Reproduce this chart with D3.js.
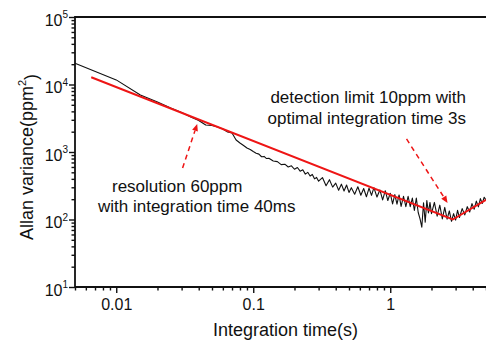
<!DOCTYPE html>
<html>
<head>
<meta charset="utf-8">
<script src="https://cdn.jsdelivr.net/npm/d3@7"></script>
<style>
  body { margin: 0; background: #fff; }
  svg { display: block; font-family: "Liberation Sans", Arial, sans-serif; }
</style>
</head>
<body>
<div id="chart"></div>
<script>
// Allan variance: tau (s) and variance (ppm^2)
const tau = [
  0.005, 0.010, 0.015, 0.020, 0.025, 0.030, 0.035, 0.040, 0.045, 0.050,
  0.055, 0.060, 0.065, 0.070, 0.075, 0.080, 0.085, 0.090, 0.095, 0.100,
  0.105, 0.11, 0.115, 0.12, 0.125, 0.13, 0.14, 0.15, 0.16, 0.17,
  0.18, 0.19, 0.20, 0.21, 0.22, 0.23, 0.24, 0.25, 0.26, 0.27,
  0.28, 0.29, 0.30, 0.32, 0.34, 0.36, 0.38, 0.40, 0.42, 0.44,
  0.46, 0.48, 0.50, 0.52, 0.55, 0.58, 0.61, 0.64, 0.67, 0.70,
  0.73, 0.76, 0.80, 0.84, 0.88, 0.92, 0.96, 1.00, 1.04, 1.08,
  1.12, 1.16, 1.20, 1.25, 1.30, 1.35, 1.40, 1.45, 1.50, 1.55,
  1.60, 1.65, 1.70, 1.75, 1.80, 1.85, 1.90, 1.95, 2.00, 2.10,
  2.20, 2.30, 2.40, 2.50, 2.60, 2.70, 2.80, 2.90, 3.00, 3.10,
  3.20, 3.35, 3.50, 3.65, 3.80, 3.95, 4.10, 4.25, 4.40, 4.55,
  4.70, 4.85, 5.00
];
const allanVar = [
  20600, 11700, 7000, 5500, 4490, 3850, 3300, 2930, 2510, 2470,
  2340, 2190, 1980, 1910, 1506, 1358, 1248, 1146, 1089, 1016,
  960, 930, 850, 860, 800, 810, 735, 720, 650, 660,
  600, 625, 555, 590, 520, 545, 470, 500, 440, 465,
  400, 420, 370, 418, 317, 389, 302, 346, 272, 334,
  264, 324, 252, 296, 237, 306, 229, 288, 217, 292,
  228, 296, 215, 274, 195, 267, 191, 245, 170, 234,
  169, 231, 156, 221, 155, 221, 155, 208, 136, 208,
  127, 102, 77, 177, 91, 191, 125, 179, 122, 179,
  112, 163, 102, 151, 101, 134, 94, 122, 98, 137,
  107, 145, 117, 155, 129, 172, 142, 187, 154, 204,
  173, 214, 194
];

// red guide line
const fitTau = [0.00657, 2.86, 5];
const fitVar = [12800, 100, 195];

const xMajor = [0.01, 0.1, 1];
const yMajor = [1e1, 1e2, 1e3, 1e4, 1e5];

// annotation arrows [tau, variance]
const arrowTails = [[0.0305, 580], [1.315, 1560]];
const arrowTips = [[0.039, 2600], [2.62, 176]];

const width = 486, height = 343;
const margin = {top: 17, right: 0, bottom: 56, left: 75};

const svg = d3.select("#chart").append("svg")
  .attr("width", width).attr("height", height);

const x = d3.scaleLog().domain([0.005, 5]).range([margin.left, width - margin.right]);
const y = d3.scaleLog().domain([10, 1e5]).range([height - margin.bottom, margin.top]);

// minor tick values 2..9 per decade
function minors(domain) {
  let out = [];
  for (let e = -4; e <= 6; e++)
    for (let m = 2; m <= 9; m++) {
      let v = m * Math.pow(10, e);
      if (v >= domain[0] * 0.999 && v <= domain[1] * 1.001) out.push(v);
    }
  return out;
}

const red = "#ee1515";
const ink = "#111";

// data lines
const line = d3.line().x(d => x(d[0])).y(d => y(d[1]));

svg.append("path")
  .datum(tau.map((t, i) => [t, allanVar[i]]))
  .attr("d", line)
  .attr("fill", "none")
  .attr("stroke", ink)
  .attr("stroke-width", 1.1)
  .attr("stroke-linejoin", "round");

svg.append("path")
  .datum(fitTau.map((t, i) => [t, fitVar[i]]))
  .attr("d", line)
  .attr("fill", "none")
  .attr("stroke", red)
  .attr("stroke-width", 2);

// axes
const gxMin = svg.append("g").attr("transform", `translate(0,${y.range()[0]})`)
  .call(d3.axisBottom(x).tickValues(minors(x.domain())).tickSize(3.5).tickSizeOuter(0).tickFormat(""));
const gxMaj = svg.append("g").attr("transform", `translate(0,${y.range()[0]})`)
  .call(d3.axisBottom(x).tickValues(xMajor).tickSize(6).tickSizeOuter(0).tickPadding(6)
    .tickFormat(d => d3.format("~g")(d)));

const gyMin = svg.append("g").attr("transform", `translate(${x.range()[0]},0)`)
  .call(d3.axisLeft(y).tickValues(minors(y.domain())).tickSize(3.5).tickSizeOuter(0).tickFormat(""));
const gyMaj = svg.append("g").attr("transform", `translate(${x.range()[0]},0)`)
  .call(d3.axisLeft(y).tickValues(yMajor).tickSize(6).tickSizeOuter(0).tickPadding(1).tickFormat(""));

gyMaj.selectAll(".tick text").each(function(d) {
  const t = d3.select(this).attr("dy", "0.5em");
  t.append("tspan").text("10");
  t.append("tspan").attr("dy", "-0.75em").attr("font-size", 10).text(Math.round(Math.log10(d)));
});

[gxMin, gxMaj, gyMin, gyMaj].forEach(g => {
  g.select(".domain").remove();
  g.selectAll("line").attr("stroke", ink).attr("stroke-width", 1.4);
  g.selectAll("text").attr("font-size", 16).attr("fill", ink)
    .attr("font-family", "'Liberation Sans', Arial, sans-serif");
});

// frame: left, bottom, top
svg.append("path")
  .attr("d", `M${x.range()[1]},${y.range()[1]}H${x.range()[0]}V${y.range()[0]}H${x.range()[1]}`)
  .attr("fill", "none").attr("stroke", ink).attr("stroke-width", 1.8);

// axis titles
svg.append("text")
  .attr("x", (x.range()[0] + x.range()[1]) / 2 + 5)
  .attr("y", 336)
  .attr("text-anchor", "middle")
  .attr("font-size", 18)
  .attr("fill", ink)
  .text("Integration time(s)");

const yt = svg.append("text")
  .attr("transform", "translate(33,157) rotate(-90)")
  .attr("text-anchor", "middle")
  .attr("font-size", 18)
  .attr("fill", ink);
yt.append("tspan").text("Allan variance(ppm");
yt.append("tspan").attr("dy", "-0.6em").attr("font-size", 11).text("2");
yt.append("tspan").attr("dy", "0.6em").text(")");

// annotations
function arrow(from, to) {
  const x0 = x(from[0]), y0 = y(from[1]), x1 = x(to[0]), y1 = y(to[1]);
  const a = Math.atan2(y1 - y0, x1 - x0);
  const len = 7, half = 3;
  const bx = x1 - len * Math.cos(a), by = y1 - len * Math.sin(a);
  svg.append("line")
    .attr("x1", x0).attr("y1", y0).attr("x2", bx).attr("y2", by)
    .attr("stroke", red).attr("stroke-width", 1.5)
    .attr("stroke-dasharray", "5,4");
  svg.append("path")
    .attr("d", `M${x1},${y1}L${bx - half * Math.sin(a)},${by + half * Math.cos(a)}L${bx + half * Math.sin(a)},${by - half * Math.cos(a)}Z`)
    .attr("fill", red);
}
arrowTails.forEach((t, i) => arrow(t, arrowTips[i]));

function note(lines, xs, ys, anchor) {
  lines.forEach((s, i) => {
    svg.append("text")
      .attr("x", xs[i]).attr("y", ys[i])
      .attr("text-anchor", anchor)
      .attr("font-size", 17)
      .attr("fill", ink)
      .text(s);
  });
}
note(["resolution 60ppm", "with integration time 40ms"], [112, 98], [191.5, 212], "start");
note(["detection limit 10ppm with", "optimal integration time 3s"], [466, 466], [103, 124], "end");
</script>
</body>
</html>
